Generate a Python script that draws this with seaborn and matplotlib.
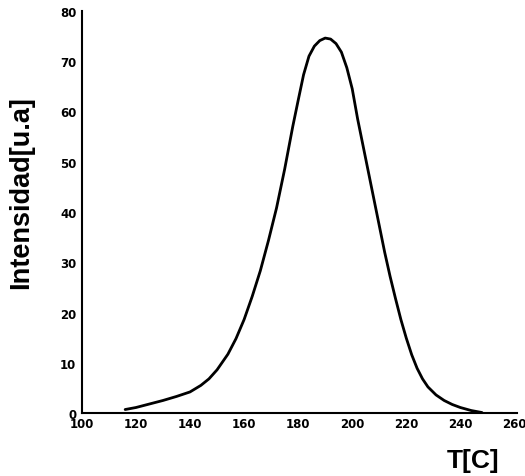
import matplotlib
matplotlib.use("Agg")
import matplotlib.pyplot as plt
import seaborn as sns
import pandas as pd

temperature = [116, 120, 125, 130, 135, 140, 144, 147, 150, 154, 157, 160, 163, 166,
               169, 172, 175, 178, 180, 182, 184, 186, 188, 190, 192, 194, 196, 198,
               200, 202, 204, 206, 208, 210, 212, 214, 216, 218, 220, 222, 224, 226,
               228, 231, 234, 237, 240, 244, 248]
intensity = [0.7, 1.1, 1.8, 2.5, 3.3, 4.2, 5.5, 6.8, 8.6, 11.7, 14.8, 18.6, 23.2, 28.3,
             34.3, 40.8, 48.5, 57.0, 62.2, 67.3, 71.0, 73.0, 74.1, 74.6, 74.4, 73.5,
             71.8, 68.7, 64.5, 58.5, 53.2, 47.9, 42.6, 37.3, 32.0, 27.2, 22.8, 18.6,
             14.9, 11.6, 8.9, 6.8, 5.2, 3.6, 2.5, 1.7, 1.1, 0.5, 0.1]
x_ticks = [100, 120, 140, 160, 180, 200, 220, 240, 260]
y_ticks = [0, 10, 20, 30, 40, 50, 60, 70, 80]

sns.set_style("white")
plt.rcParams['font.family'] = ['Liberation Sans', 'DejaVu Sans']

df = pd.DataFrame({"T": temperature, "I": intensity})

fig = plt.figure(figsize=(5.25, 4.77), dpi=100)
ax = fig.add_axes([0.156, 0.132, 0.829, 0.843])
sns.lineplot(data=df, x="T", y="I", ax=ax, color="black", linewidth=2.0)

ax.set_xlim(100, 261)
ax.set_ylim(0, 80)
ax.set_xticks(x_ticks)
ax.set_yticks(y_ticks)
ax.set_xticklabels([str(t) for t in x_ticks], fontsize=8.5, fontweight='bold',
                   family='DejaVu Sans')
ax.set_yticklabels([str(t) for t in y_ticks], fontsize=8.5, fontweight='bold',
                   family='DejaVu Sans')
ax.tick_params(axis='x', direction='in', length=6, width=1.2, pad=3, colors='black')
ax.tick_params(axis='y', direction='in', length=6, width=1.2, pad=4, colors='black')

for s in ['top', 'right']:
    ax.spines[s].set_visible(False)
for s in ['left', 'bottom']:
    ax.spines[s].set_color('black')
    ax.spines[s].set_linewidth(1.5)

ax.set_xlabel("T[C]", fontsize=19, fontweight='bold', color='black')
ax.set_ylabel("Intensidad[u.a]", fontsize=19.5, fontweight='bold', color='black')
ax.xaxis.set_label_coords(0.899, -0.088)
ax.yaxis.set_label_coords(-0.11, 0.55)

fig.savefig("out.png", dpi=100)
